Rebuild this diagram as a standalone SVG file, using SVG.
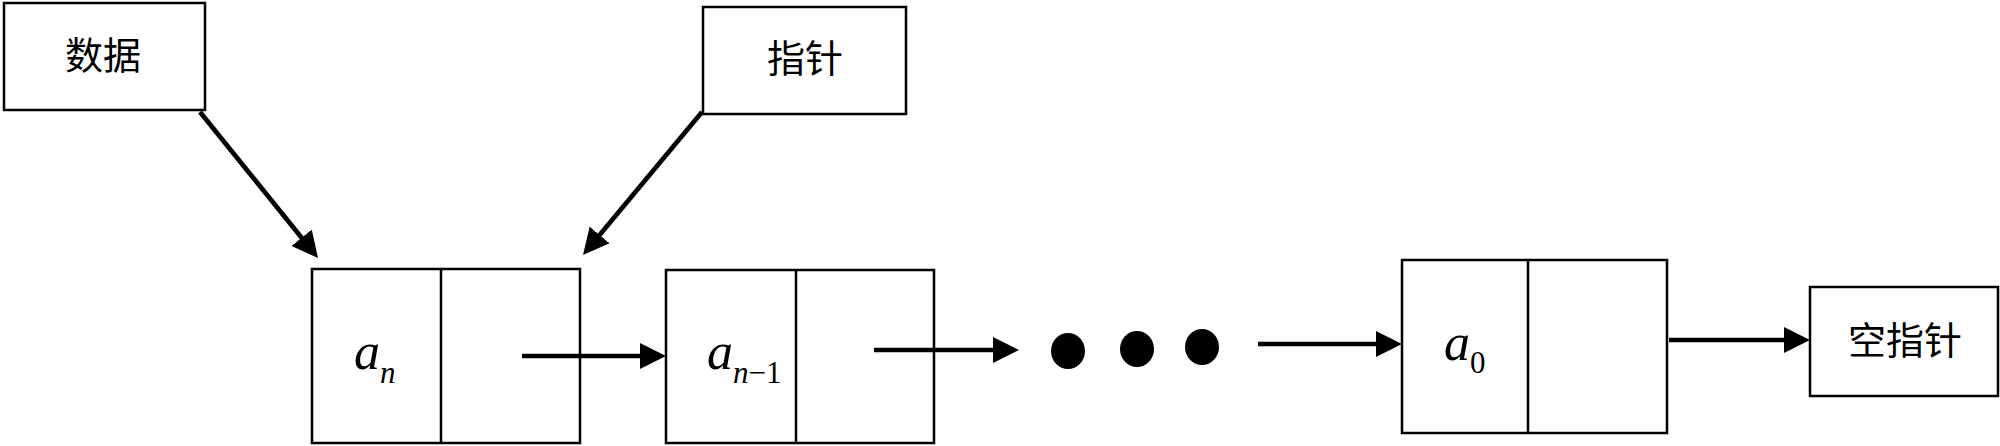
<svg xmlns="http://www.w3.org/2000/svg" width="2000" height="446" viewBox="0 0 2000 446">
<style>
.box{fill:#fff;stroke:#000;stroke-width:2.5}
.div{stroke:#000;stroke-width:2.5}
.cn{font-family:"Liberation Serif","Noto Sans CJK SC",serif;font-size:38px;fill:#000;text-anchor:middle;dominant-baseline:central}
.var{font-family:'Liberation Serif','Times New Roman','DejaVu Serif',serif;font-size:52px;font-style:italic;fill:#000}
.sub{font-size:31px}
.up{font-style:normal}
.conn{stroke:#000;stroke-width:4.7;fill:none;marker-end:url(#ah)}
.dot{fill:#000}
</style>
<defs>
<marker id="ah" markerUnits="userSpaceOnUse" markerWidth="26" markerHeight="26" viewBox="0 0 26 26" refX="16" refY="13" orient="auto">
<path d="M0,0 L26,13 L0,26 Z" fill="#000"/>
</marker>
</defs>
<g id="data">
<rect class="box" x="4" y="3" width="201" height="107"/>
<text class="cn" x="103" y="56">数据</text>
</g>
<g id="pointer">
<rect class="box" x="703" y="7" width="203" height="107"/>
<text class="cn" x="805" y="59">指针</text>
</g>
<g id="node-an">
<rect class="box" x="312" y="269" width="268" height="174"/>
<line class="div" x1="441" y1="269" x2="441" y2="443"/>
<text class="var" x="354" y="369">a<tspan class="sub" x="380" y="383">n</tspan></text>
</g>
<g id="node-an1">
<rect class="box" x="666" y="270" width="268" height="173"/>
<line class="div" x1="796" y1="270" x2="796" y2="443"/>
<text class="var" x="707" y="369">a<tspan class="sub" x="733" y="383">n</tspan><tspan class="sub up">−1</tspan></text>
</g>
<g id="ellipsis">
<ellipse class="dot" cx="1068" cy="351" rx="17" ry="18"/>
<ellipse class="dot" cx="1137" cy="349" rx="17" ry="18"/>
<ellipse class="dot" cx="1202" cy="347" rx="17" ry="18"/>
</g>
<g id="node-a0">
<rect class="box" x="1402" y="260" width="265" height="173"/>
<line class="div" x1="1528" y1="260" x2="1528" y2="433"/>
<text class="var" x="1444" y="360">a<tspan class="sub up" x="1470" y="373">0</tspan></text>
</g>
<g id="null">
<rect class="box" x="1810" y="287" width="188" height="109"/>
<text class="cn" x="1905" y="341">空指针</text>
</g>
<g id="connectors">
<line class="conn" x1="200" y1="112" x2="311.7" y2="250.2"/>
<line class="conn" x1="702" y1="112" x2="589.4" y2="247.3"/>
<line class="conn" x1="522" y1="356" x2="656" y2="356"/>
<line class="conn" x1="874" y1="350" x2="1009" y2="350"/>
<line class="conn" x1="1258" y1="344" x2="1392" y2="344"/>
<line class="conn" x1="1669" y1="340" x2="1800" y2="340"/>
</g>
</svg>
